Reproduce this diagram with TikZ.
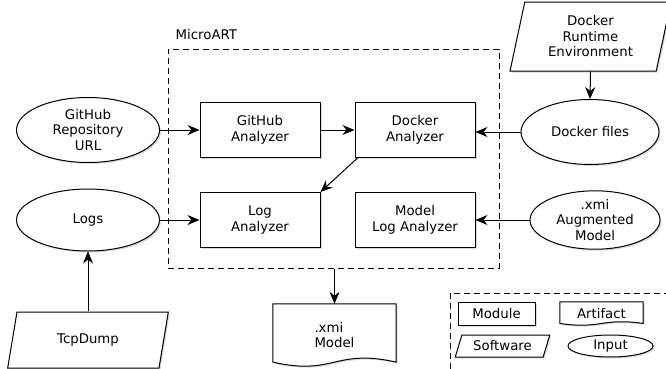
\documentclass[tikz,border=0pt]{standalone}
\usepackage{fontspec}
\setmainfont{DejaVu Sans}
\usetikzlibrary{shapes.geometric,arrows.meta,shadows,calc,backgrounds}

\tikzset{
	every node/.style={font=\fontsize{13.3}{15.5}\selectfont, align=center},
	boxshadow/.style={drop shadow={shadow xshift=1.5pt, shadow yshift=-1.5pt, opacity=0.3}},
	module/.style={draw, fill=white, line width=1pt, boxshadow, minimum width=120pt, minimum height=55pt, inner sep=0pt},
	input/.style={ellipse, draw, fill=white, line width=1pt, boxshadow, inner sep=0pt},
	software/.style={trapezium, draw, fill=white, line width=1pt, boxshadow, trapezium stretches=true, inner sep=0pt},
	artifact/.style={inner sep=0pt},
	link/.style={line width=1pt, -{Stealth[length=12pt, width=10pt, inset=4pt]}},
	groupbox/.style={draw, dash pattern=on 6pt off 4pt, line width=1pt},
}

% wavy document outline round a named node
\newcommand{\docshape}[2]{%
	\begin{pgfonlayer}{background}
	\draw[line width=1pt, fill=white, boxshadow] (#1.north west) -- (#1.north east)
		-- ($(#1.south east)+(0,0.29*#2)$)
		.. controls ($(#1.south)+(0,1.29*#2)$) and ($(#1.south)+(0,-0.71*#2)$) .. ($(#1.south west)+(0,0.29*#2)$)
		-- cycle;
	\end{pgfonlayer}}

\begin{document}
\begin{tikzpicture}[x=1pt, y=1pt]
	
	\useasboundingbox (0,0) rectangle (666,368);
	\clip (0,0) rectangle (666,368);
	
	% MicroART
	\node[groupbox, minimum width=331pt, minimum height=219pt, inner sep=0pt] (microart) at (333.5,209.5) {};
	\node[anchor=south west, inner sep=0pt] (title) at ([xshift=8pt, yshift=9pt]microart.north west) {MicroART};
	
	\node[module] (ga) at (260,238) {GitHub\\Analyzer};
	\node[module] (da) at (415,238) {Docker\\Analyzer};
	\node[module] (la) at (260,148) {Log\\Analyzer};
	\node[module] (mla) at (415,148) {Model\\Log Analyzer};
	
	% inputs
	\node[input, minimum width=143pt, minimum height=65pt] (repo) at (88,238) {GitHub\\Repository\\URL};
	\node[input, minimum width=143pt, minimum height=62pt] (logs) at (88,148) {Logs};
	\node[input, minimum width=138pt, minimum height=65pt] (dfiles) at (590,236) {Docker files};
	\node[input, minimum width=130pt, minimum height=52pt] (aug) at (595,148) {.xmi\\Augmented\\Model};
	
	% software
	\node[software, trapezium left angle=77, trapezium right angle=103, minimum width=161pt, minimum height=69pt] (runtime) at (590.5,331.5) {Docker\\Runtime\\Environment};
	\node[software, trapezium left angle=72, trapezium right angle=108, minimum width=161pt, minimum height=56pt] (tcp) at (88,28) {TcpDump};
	
	% output
	\node[artifact, minimum width=123pt, minimum height=62pt, text width=40pt, align=left] (xmi) at (334.5,33) {.xmi\\Model};
	\docshape{xmi}{14}
	
	\draw[link] (repo.east) -- (ga.west);
	\draw[link] (ga.east) -- (da.west);
	\draw[link] (dfiles.west) -- (dfiles.west -| da.east);
	\draw[link] ([xshift=3pt]da.south west) -- (la.north east);
	\draw[link] (logs.east) -- (la.west);
	\draw[link] (aug.west) -- (mla.east);
	\draw[link] (runtime.south) -- (dfiles.north);
	\draw[link] (logs.south |- tcp.north) -- (logs.south);
	\draw[link] (xmi.north |- microart.south) -- (xmi.north);
	
	% legend
	\draw[groupbox] (450,75) rectangle (700,-20);
	\node[module, minimum width=77pt, minimum height=23pt] (lmod) at (496.5,54.5) {Module};
	\node[artifact, minimum width=83pt, minimum height=23pt] (lart) at (601.5,54.5) {Artifact};
	\docshape{lart}{6}
	\node[software, trapezium left angle=65, trapezium right angle=115, minimum width=95pt, minimum height=22pt] (lsoft) at (502.5,22) {Software};
	\node[input, minimum width=85pt, minimum height=22pt] (linput) at (610.5,22) {Input};
	
\end{tikzpicture}
\end{document}
